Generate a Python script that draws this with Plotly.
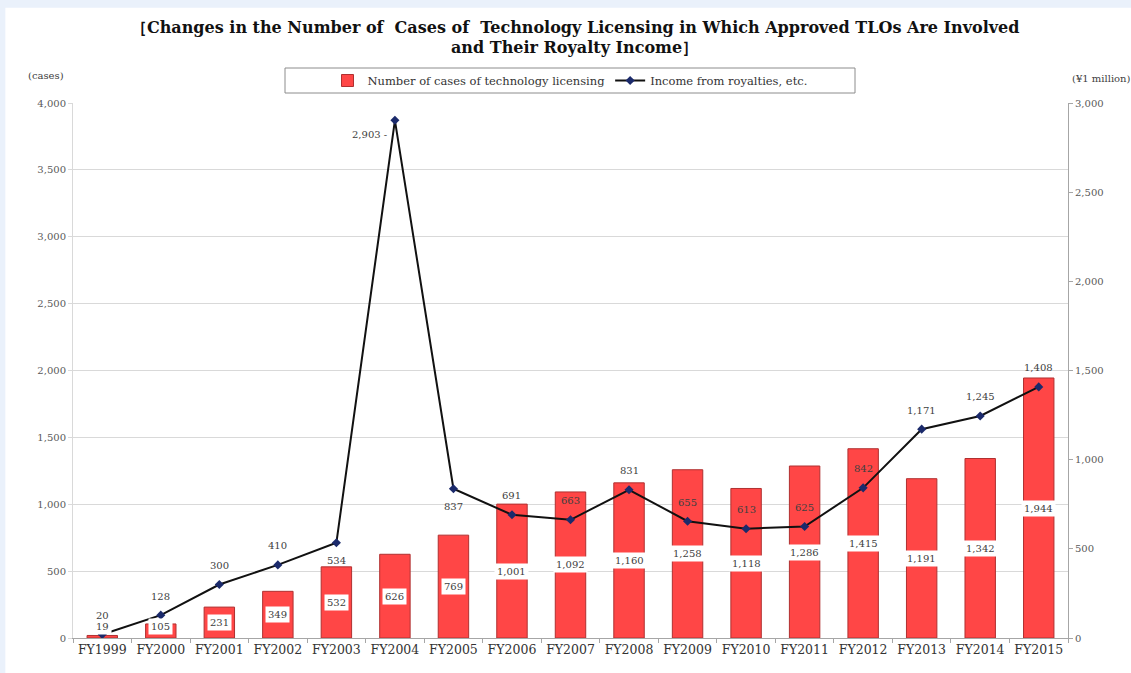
import plotly.graph_objects as go

years = ["FY1999", "FY2000", "FY2001", "FY2002", "FY2003", "FY2004", "FY2005", "FY2006",
         "FY2007", "FY2008", "FY2009", "FY2010", "FY2011", "FY2012", "FY2013", "FY2014", "FY2015"]
cases = [19, 105, 231, 349, 532, 626, 769, 1001, 1092, 1160, 1258, 1118, 1286, 1415, 1191, 1342, 1944]
income = [20, 128, 300, 410, 534, 2903, 837, 691, 663, 831, 655, 613, 625, 842, 1171, 1245, 1408]

SERIF = "DejaVu Serif, Liberation Serif, serif"

fig = go.Figure()
fig.add_trace(go.Bar(
    x=years, y=cases, name="Number of cases of technology licensing",
    marker=dict(color="#FF4646", line=dict(color="#B03030", width=1)),
    width=0.52, yaxis="y",
))
fig.add_trace(go.Scatter(
    x=years, y=income, name="Income from royalties, etc.",
    mode="lines+markers", yaxis="y2",
    line=dict(color="#111111", width=2),
    marker=dict(symbol="diamond", size=7, color="#1B2A6B"),
))

# bar value labels (white boxes)
for x, v in zip(years, cases):
    fig.add_annotation(x=x, y=max(v / 2, 85), xref="x", yref="y", text=f"{v:,}",
                       showarrow=False, bgcolor="white", borderpad=2,
                       font=dict(family=SERIF, size=10, color="#404040"))

# line value labels
imax = income.index(max(income))
for i, (x, v) in enumerate(zip(years, income)):
    if i == imax:
        fig.add_annotation(x=x, y=v, xref="x", yref="y2", text=f"{v:,} -",
                           showarrow=False, xanchor="right", xshift=-6, yshift=-14,
                           font=dict(family=SERIF, size=10, color="#404040"))
        continue
    shift = -18 if abs(i - imax) == 1 else 19
    fig.add_annotation(x=x, y=v, xref="x", yref="y2", text=f"{v:,}",
                       showarrow=False, yshift=shift,
                       font=dict(family=SERIF, size=10, color="#404040"))

# white card
fig.add_shape(type="rect", xref="paper", yref="paper", layer="below",
              x0=-0.068, x1=1.07, y0=-0.07, y1=1.178,
              fillcolor="white", line=dict(width=0))
# legend frame
fig.add_shape(type="rect", xref="paper", yref="paper", layer="below",
              x0=(285 - 73) / 995, x1=(855 - 73) / 995,
              y0=(638 - 93) / 535, y1=(638 - 68) / 535,
              fillcolor="white", line=dict(color="#8C8C8C", width=1))

# title (two lines)
TFONT = dict(family=SERIF, size=16, color="#111111", weight="bold")
fig.add_annotation(xref="paper", yref="paper", x=0.5045, y=(638 - 27) / 535,
                   xanchor="center", yanchor="middle",
                   text="［Changes in the Number of  Cases of  Technology Licensing in Which Approved TLOs Are Involved",
                   showarrow=False, font=TFONT)
fig.add_annotation(xref="paper", yref="paper", x=0.5045, y=(638 - 47) / 535,
                   xanchor="center", yanchor="middle",
                   text="and Their Royalty Income］", showarrow=False, font=TFONT)

fig.add_annotation(xref="paper", yref="paper", x=(46 - 73) / 995, y=(638 - 75) / 535,
                   xanchor="center", yanchor="middle", text="(cases)",
                   showarrow=False, font=dict(family=SERIF, size=10, color="#404040"))
fig.add_annotation(xref="paper", yref="paper", x=(1101 - 73) / 995, y=(638 - 78) / 535,
                   xanchor="center", yanchor="middle", text="(¥1 million)",
                   showarrow=False, font=dict(family=SERIF, size=10, color="#404040"))

fig.update_layout(
    width=1131, height=673,
    paper_bgcolor="#EAF1FB", plot_bgcolor="white",
    margin=dict(l=73, r=63, t=103, b=35, autoexpand=False),
    showlegend=True,
    legend=dict(orientation="h", x=(570 - 73) / 995, xanchor="center",
                y=(638 - 80.5) / 535, yanchor="middle",
                borderwidth=0, bgcolor="rgba(0,0,0,0)",
                font=dict(family=SERIF, size=11.5, color="#333333"),
                itemwidth=30, tracegroupgap=0),
    xaxis=dict(range=[-0.5, len(years) - 0.5], showline=True, linecolor="#A6A6A6",
               ticks="outside", tickson="boundaries", tickangle=0,
               tickcolor="#A6A6A6", ticklen=4, automargin=False,
               tickfont=dict(family=SERIF, size=12.5, color="#333333")),
    yaxis=dict(range=[0, 4000], dtick=500, tickformat=",", showgrid=True,
               gridcolor="#D9D9D9", gridwidth=1, showline=True, linecolor="#D9D9D9",
               zeroline=False, ticks="outside", ticklen=4, tickcolor="#D9D9D9",
               automargin=False,
               tickfont=dict(family=SERIF, size=10, color="#595959")),
    yaxis2=dict(range=[0, 3000], dtick=500, tickformat=",", overlaying="y", side="right",
                showgrid=False, showline=True, linecolor="#A6A6A6", zeroline=False,
                ticks="outside", ticklen=4, tickcolor="#A6A6A6", automargin=False,
                tickfont=dict(family=SERIF, size=10, color="#595959")),
)

fig.write_html("out.html", config={"displayModeBar": False},
               post_script="document.body.style.margin='0';")
